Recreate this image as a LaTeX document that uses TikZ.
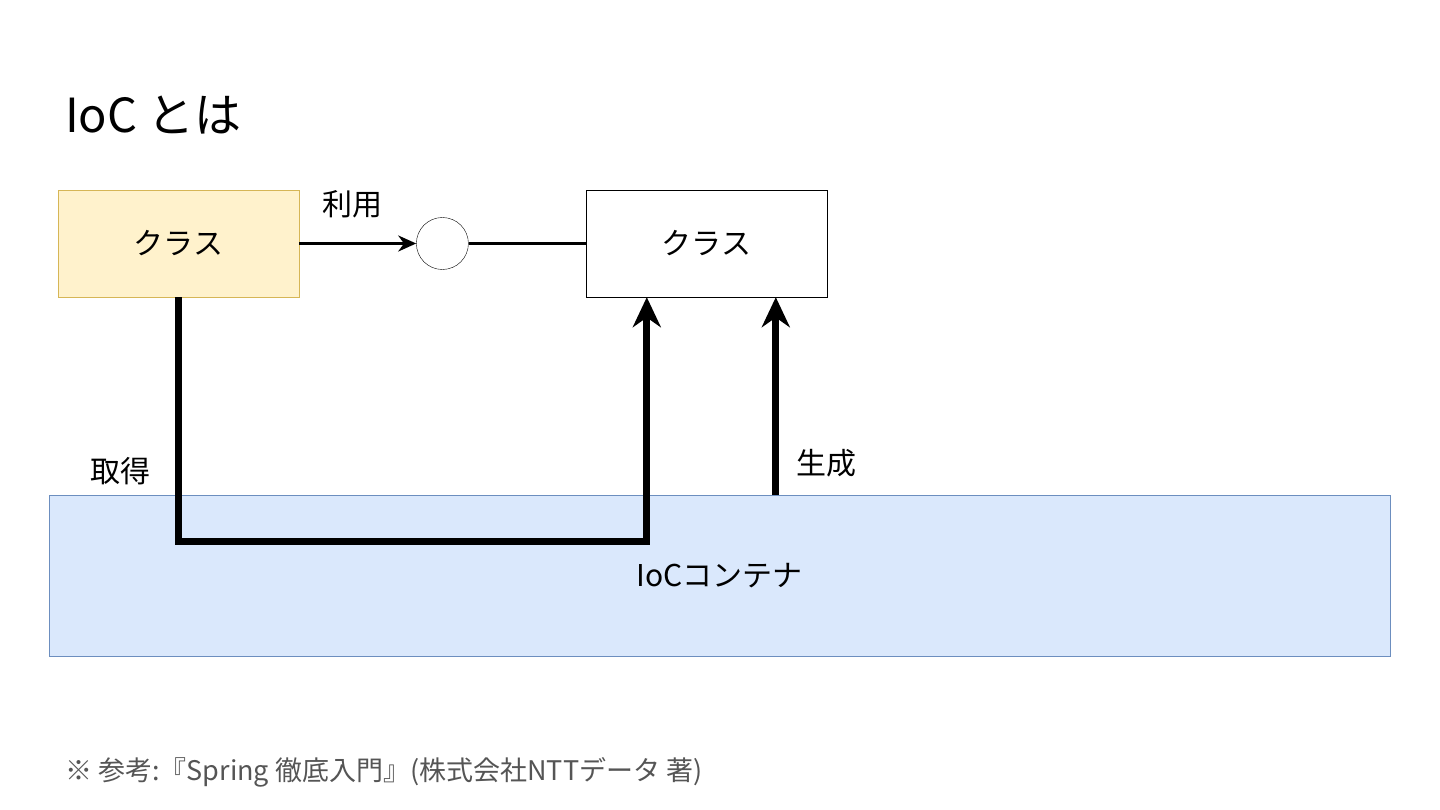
\documentclass[tikz,border=0pt]{standalone}
\usepackage{fontspec}
\setmainfont{Noto Sans CJK JP}
\usetikzlibrary{arrows.meta,positioning}
\definecolor{kiiro}{HTML}{FFF2CC}
\definecolor{kiirosen}{HTML}{D6B656}
\definecolor{mizu}{HTML}{DAE8FC}
\definecolor{mizusen}{HTML}{6C8EBF}
\definecolor{haiiro}{HTML}{555555}

\begin{document}
\begin{tikzpicture}[x=1pt,y=-1pt,>=Stealth,
  cls/.style={draw,minimum width=241pt,minimum height=107pt,inner sep=0pt,font=\fontsize{30}{36}\selectfont},
  lbl/.style={inner sep=0pt,font=\fontsize{30}{36}\selectfont},
  fat/.style={line width=7pt,-{Stealth[length=30pt,width=28pt]}}]
\useasboundingbox[fill=white] (0,0) rectangle (1440,810);
\node[lbl,anchor=west,font=\fontsize{47}{56}\selectfont] (ttl) at (65,115) {IoC とは};
% container first, the lines go over it
\node[lbl,draw=mizusen,fill=mizu,minimum width=1341pt,minimum height=161pt] (ctn) at (719.5,575.5) {IoCコンテナ};
\node[cls,fill=kiiro,draw=kiirosen] (c1) at (178.5,243.5) {クラス};
\node[circle,draw,minimum size=52pt,inner sep=0pt,right=117pt of c1] (i) {};
\node[cls,fill=white,right=117pt of i] (c2) {クラス};
\draw[-{Stealth[length=18pt,width=16pt]},line width=3.5pt] (c1) -- (i);
\draw[line width=3.5pt] (i) -- (c2);
\node[lbl] (riyo) at (352,204) {利用};
\coordinate (p) at ([xshift=-59.5pt]c2.south);
\coordinate (q) at ([xshift=69.5pt]c2.south);
\draw[fat] (c1.south) -- ++(0,244) -| (p);
\draw[fat] (ctn.north -| q) -- (q);
\node[lbl] (shutoku) at (120,471) {取得};
\node[lbl] (seisei) at (826,463) {生成};
\node[anchor=west,inner sep=0pt,text=haiiro,font=\fontsize{27}{32}\selectfont] (ref) at (65,772) {※ 参考:『Spring 徹底入門』(株式会社NTTデータ 著)};
\end{tikzpicture}
\end{document}
